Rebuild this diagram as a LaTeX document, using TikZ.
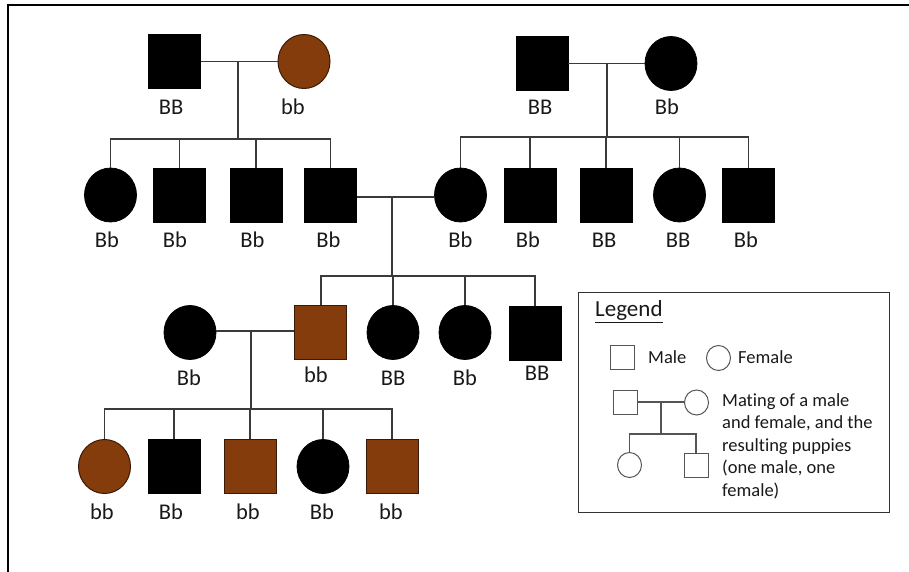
\documentclass[tikz,border=0pt]{standalone}
\usepackage{fontspec}
\setmainfont{Carlito}[Ligatures=CommonOff]
\usetikzlibrary{shapes.geometric}
\definecolor{brn}{HTML}{843C0C}
\definecolor{brnline}{HTML}{3A1A06}
\definecolor{ln}{HTML}{3A3A3A}
\definecolor{lgline}{HTML}{555555}
\begin{document}
\begin{tikzpicture}[x=1pt,y=-1pt,
 male/.style={rectangle,draw=black,fill=black,line width=0.8pt,minimum width=52pt,minimum height=54pt,inner sep=0pt},
 female/.style={ellipse,draw=black,fill=black,line width=0.8pt,minimum width=52pt,minimum height=54pt,inner sep=0pt},
 brown/.style={fill=brn,draw=brnline,line width=1pt},
 lbl/.style={anchor=base,inner sep=0pt,text=black!90,font=\fontsize{22.5}{26}\selectfont},
 conn/.style={draw=ln,line width=1.2pt},
 lgmale/.style={rectangle,draw=lgline,fill=white,line width=1pt,minimum width=24pt,minimum height=24pt,inner sep=0pt},
 lgfemale/.style={ellipse,draw=lgline,fill=white,line width=1pt,minimum width=24pt,minimum height=25pt,inner sep=0pt},
 lgtext/.style={anchor=base west,inner sep=0pt,text=black!90,font=\fontsize{18.5}{22.5}\selectfont}
]
\useasboundingbox (0,0) rectangle (909,572);
% frame
\draw[line width=2.2pt,black] (8,572) -- (8,5) -- (909,5);

% ---------- generation 1
\node[male] (a1) at (174.5,61.5) {};
\node[female,brown] (a2) at (304,61.5) {};
\node[male] (b1) at (542,63.5) {};
\node[female] (b2) at (671,63.5) {};
\node[lbl] (la1) at (171,115) {BB};
\node[lbl] (la2) at (293,115) {bb};
\node[lbl] (lb1) at (540,115) {BB};
\node[lbl] (lb2) at (667,115) {Bb};

% ---------- generation 2
\node[female] (c1) at (110.5,195) {};
\node[male] (c2) at (179.5,195) {};
\node[male] (c3) at (256,195) {};
\node[male] (c4) at (330.5,195) {};
\node[female] (d1) at (460.5,195) {};
\node[male] (d2) at (530,195) {};
\node[male] (d3) at (606,195) {};
\node[female] (d4) at (679.5,195) {};
\node[male] (d5) at (748.5,195) {};
\node[lbl] (lc1) at (107,247) {Bb};
\node[lbl] (lc2) at (175,247) {Bb};
\node[lbl] (lc3) at (252.5,247) {Bb};
\node[lbl] (lc4) at (328.5,247) {Bb};
\node[lbl] (ld1) at (460.5,247) {Bb};
\node[lbl] (ld2) at (528,247) {Bb};
\node[lbl] (ld3) at (604,247) {BB};
\node[lbl] (ld4) at (678,247) {BB};
\node[lbl] (ld5) at (746,247) {Bb};

% ---------- generation 3
\node[female] (g1) at (190,332.5) {};
\node[male,brown] (g2) at (320,332) {};
\node[female] (g3) at (393,332.5) {};
\node[female] (g4) at (465,332.5) {};
\node[male] (g5) at (535,333.5) {};
\node[lbl] (lg1) at (189,385) {Bb};
\node[lbl] (lg2) at (316,382) {bb};
\node[lbl] (lg3) at (393,385) {BB};
\node[lbl] (lg4) at (465,385) {Bb};
\node[lbl] (lg5) at (537,380) {BB};

% ---------- generation 4
\node[female,brown] (h1) at (104.5,466.5) {};
\node[male] (h2) at (174,466.5) {};
\node[male,brown] (h3) at (250,466.5) {};
\node[female] (h4) at (323,466.5) {};
\node[male,brown] (h5) at (392,466.5) {};
\node[lbl] (lh1) at (102,519) {bb};
\node[lbl] (lh2) at (171,519) {Bb};
\node[lbl] (lh3) at (248,519) {bb};
\node[lbl] (lh4) at (322,519) {Bb};
\node[lbl] (lh5) at (391,519) {bb};

% ---------- connectors
\coordinate (ja) at (238,61.5);
\coordinate (sa) at (238,139);
\draw[conn] (a1.east) -- (a2.west);
\draw[conn] (ja) -- (sa);
\draw[conn] (c1.north) -- (c1.north |- sa) -- (c4.north |- sa) -- (c4.north);
\draw[conn] (c2.north) -- (c2.north |- sa);
\draw[conn] (c3.north) -- (c3.north |- sa);

\coordinate (jb) at (607,63.5);
\coordinate (sb) at (607,137);
\draw[conn] (b1.east) -- (b2.west);
\draw[conn] (jb) -- (sb);
\draw[conn] (d1.north) -- (d1.north |- sb) -- (d5.north |- sb) -- (d5.north);
\draw[conn] (d2.north) -- (d2.north |- sb);
\draw[conn] (d3.north) -- (d3.north |- sb);
\draw[conn] (d4.north) -- (d4.north |- sb);

\coordinate (jc) at (392,197);
\coordinate (sc) at (392,276);
\draw[conn] (c4.east |- jc) -- (d1.west |- jc);
\draw[conn] (jc) -- (sc);
\draw[conn] (g2.north -| 321,0) -- (321,276) -- (g5.north |- sc) -- (g5.north);
\draw[conn] (g3.north) -- (g3.north |- sc);
\draw[conn] (g4.north) -- (g4.north |- sc);

\coordinate (jd) at (251,331);
\coordinate (sd) at (251,409);
\draw[conn] (g1.east |- jd) -- (g2.west |- jd);
\draw[conn] (jd) -- (sd);
\draw[conn] (h1.north) -- (h1.north |- sd) -- (h5.north |- sd) -- (h5.north);
\draw[conn] (h2.north) -- (h2.north |- sd);
\draw[conn] (h3.north) -- (h3.north |- sd);
\draw[conn] (h4.north) -- (h4.north |- sd);

% ---------- legend
\node[draw=black!80,line width=1pt,rectangle,minimum width=311pt,minimum height=220pt,inner sep=0pt] (legend) at (733.5,402) {};
\node[anchor=base west,inner sep=0pt,text=black!90,font=\fontsize{23}{27}\selectfont] (lgt) at (595,316.5) {\underline{Legend}};
\node[lgmale] (lm) at (622.5,357) {};
\node[lgtext] (lmt) at (648,363) {Male};
\node[lgfemale] (lf) at (718.5,358) {};
\node[lgtext] (lft) at (738,363) {Female};
\node[lgmale] (pm) at (625.5,402) {};
\node[lgfemale] (pf) at (696.5,402.5) {};
\coordinate (pj) at (661,402);
\coordinate (ps) at (661,434);
\node[lgfemale] (kf) at (629.5,465) {};
\node[lgmale] (km) at (696,465) {};
\draw[conn,draw=lgline] (pm.east) -- (pm.east -| pf.west);
\draw[conn,draw=lgline] (pj) -- (ps);
\draw[conn,draw=lgline] (kf.north) -- (kf.north |- ps) -- (km.north |- ps) -- (km.north);
\node[lgtext] (l1) at (722,406) {Mating of a male};
\node[lgtext] (l2) at (722,428.5) {and female, and the};
\node[lgtext] (l3) at (722,451) {resulting puppies};
\node[lgtext] (l4) at (722,473.5) {(one male, one};
\node[lgtext] (l5) at (722,496) {female)};
\end{tikzpicture}
\end{document}
